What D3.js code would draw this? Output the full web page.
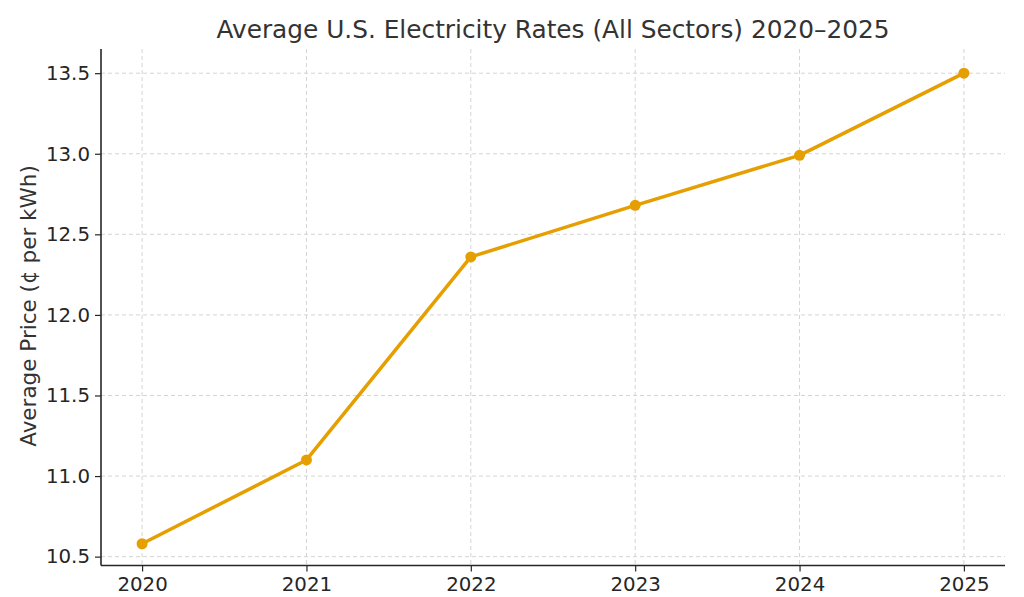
<!DOCTYPE html>
<html lang="en">
  <head>
    <meta charset="UTF-8" />
    <title>Average U.S. Electricity Rates</title>
    <script src="https://d3js.org/d3.v7.min.js"></script>
    <style>
      body { margin: 0; background: #fff; }
      svg { font-family: "DejaVu Sans", sans-serif; }
    </style>
  </head>
  <body>
    <div class="visHolder"></div>
    <script>
      // ----------- Data ----------- //
      var years = [2020, 2021, 2022, 2023, 2024, 2025];
      var prices = [10.58, 11.10, 12.36, 12.68, 12.99, 13.50];
      var yTicks = [10.5, 11.0, 11.5, 12.0, 12.5, 13.0, 13.5];

      // ----------- Basic Variables ----------- //
      var width = 1024;
      var height = 597;
      var mLeft = 101, mRight = 1005, mTop = 49, mBottom = 565.5;
      var color = "#E69F00";

      var svg = d3.select(".visHolder")
        .append("svg")
        .attr("width", width)
        .attr("height", height);

      var xScale = d3.scaleLinear()
        .domain([2019.75, 2025.25])
        .range([mLeft, mRight]);

      var yScale = d3.scaleLinear()
        .domain([10.445, 13.65])
        .range([mBottom, mTop]);

      // ----------- Grid ----------- //
      svg.append("g").selectAll("line")
        .data(years).enter().append("line")
        .attr("x1", d => xScale(d)).attr("x2", d => xScale(d))
        .attr("y1", mTop).attr("y2", mBottom)
        .attr("stroke", "#d4d4d4").attr("stroke-width", 1)
        .attr("stroke-dasharray", "4,3");

      svg.append("g").selectAll("line")
        .data(yTicks).enter().append("line")
        .attr("x1", mLeft).attr("x2", mRight)
        .attr("y1", d => yScale(d)).attr("y2", d => yScale(d))
        .attr("stroke", "#d4d4d4").attr("stroke-width", 1)
        .attr("stroke-dasharray", "4,3");

      // ----------- Axes ----------- //
      var xAxis = d3.axisBottom(xScale)
        .tickValues(years)
        .tickFormat(d3.format("d"))
        .tickSize(6).tickPadding(5).tickSizeOuter(0);

      var yAxis = d3.axisLeft(yScale)
        .tickValues(yTicks)
        .tickFormat(d3.format(".1f"))
        .tickSize(6).tickPadding(5).tickSizeOuter(0);

      var gx = svg.append("g")
        .attr("transform", "translate(0," + mBottom + ")")
        .call(xAxis);
      gx.select(".domain").attr("d", "M" + mLeft + ",0H" + mRight);

      var gy = svg.append("g")
        .attr("transform", "translate(" + mLeft + ",0)")
        .call(yAxis);
      gy.select(".domain").attr("d", "M0," + mTop + "V" + mBottom);

      [gx, gy].forEach(function (g) {
        g.select(".domain").attr("stroke", "#262626").attr("stroke-width", 1.6);
        g.selectAll(".tick line").attr("stroke", "#262626").attr("stroke-width", 1.2);
        g.selectAll(".tick text")
          .attr("fill", "#262626")
          .style("font-size", "19.8px")
          .style("font-family", "DejaVu Sans, sans-serif");
      });

      // ----------- Line & points ----------- //
      var line = d3.line()
        .x((d, i) => xScale(years[i]))
        .y(d => yScale(d));

      svg.append("path")
        .datum(prices)
        .attr("d", line)
        .attr("fill", "none")
        .attr("stroke", color)
        .attr("stroke-width", 3.5)
        .attr("stroke-linejoin", "round");

      svg.append("g").selectAll("circle")
        .data(prices).enter().append("circle")
        .attr("cx", (d, i) => xScale(years[i]))
        .attr("cy", d => yScale(d))
        .attr("r", 5.5)
        .attr("fill", color);

      // ----------- Labels ----------- //
      svg.append("text")
        .attr("x", (mLeft + mRight) / 2)
        .attr("y", 38)
        .attr("text-anchor", "middle")
        .attr("fill", "#333")
        .style("font-size", "24.8px")
        .text("Average U.S. Electricity Rates (All Sectors) 2020–2025");

      svg.append("text")
        .attr("transform", "rotate(-90)")
        .attr("x", -306)
        .attr("y", 36)
        .attr("text-anchor", "middle")
        .attr("fill", "#333")
        .style("font-size", "21.5px")
        .text("Average Price (¢ per kWh)");
    </script>
  </body>
</html>
